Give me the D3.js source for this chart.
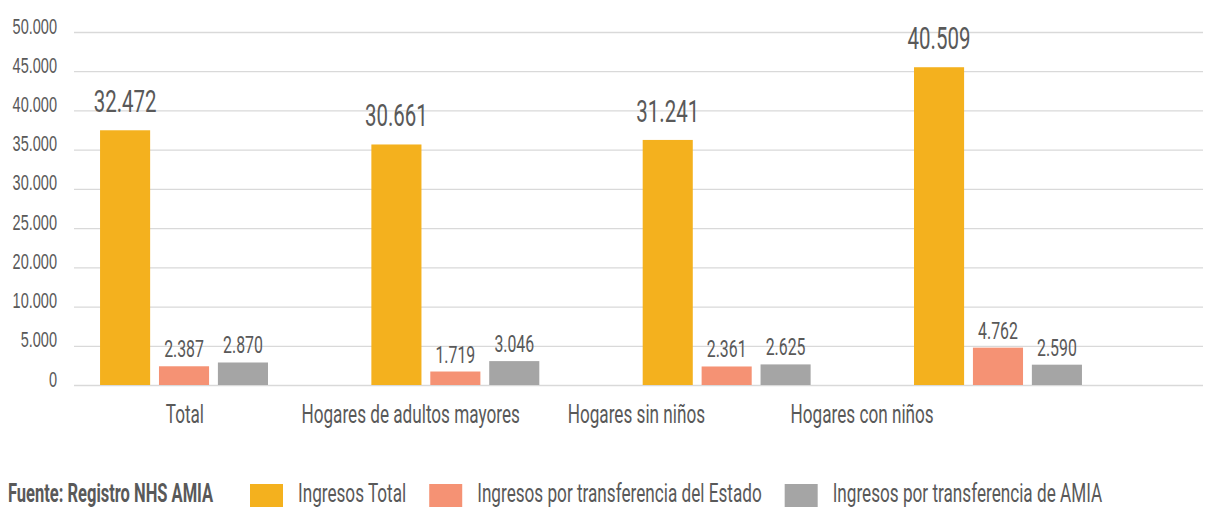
<!DOCTYPE html>
<html>
<head>
<meta charset="utf-8">
<script src="https://cdn.jsdelivr.net/npm/d3@7"></script>
<style>
  body { margin: 0; background: #fff; }
  svg { display: block; font-family: Roboto, "DejaVu Sans", sans-serif; }
  .axis text { fill: #595959; font-size: 22px; }
  .axis line { stroke: #d9d9d9; stroke-width: 1.3; }
  .axis .domain { display: none; }
  .label { fill: #595959; }
</style>
</head>
<body>
<div class="chart"></div>
<script>
// Data
const categories = ['Total', 'Hogares de adultos mayores', 'Hogares sin niños', 'Hogares con niños']
const seriesNames = ['Ingresos Total', 'Ingresos por transferencia del Estado', 'Ingresos por transferencia de AMIA']
const ingresosTotal = [32472, 30661, 31241, 40509]
const transferenciaEstado = [2387, 1719, 2361, 4762]
const transferenciaAmia = [2870, 3046, 2625, 2590]
const yTickValues = [0, 5000, 10000, 15000, 20000, 25000, 30000, 35000, 40000, 45000]
const yTickLabels = ['0', '5.000', '10.000', '20.000', '25.000', '30.000', '35.000', '40.000', '45.000', '50.000']
const source = 'Fuente: Registro NHS AMIA'

const colors = ['#f4b11e', '#f59274', '#a5a5a5']

const locale = d3.formatLocale({ decimal: ',', thousands: '.', grouping: [3], currency: ['', '€'] })
const fmt = locale.format(',d')

const width = 1205
const height = 507

// the original uses a condensed face; squeeze Roboto horizontally instead
const squeeze = 0.66

const rows = categories.map((c, i) => ({
  category: c,
  values: [ingresosTotal[i], transferenciaEstado[i], transferenciaAmia[i]]
}))

const svg = d3.select('.chart')
  .append('svg')
  .attr('width', width)
  .attr('height', height)

const gridLeft = 74
const gridRight = 1203

const y = d3.scaleLinear()
  .domain([0, 45000])
  .range([385, 32])

// groups of bars
const x0 = d3.scaleBand()
  .domain(categories)
  .range([74, 1108])
  .paddingInner(0.381)
  .paddingOuter(0.096)

const x1 = d3.scaleBand()
  .domain(d3.range(seriesNames.length))
  .range([0, x0.bandwidth()])
  .paddingInner(0.15)

// category labels sit on their own, narrower, band
const xLabel = d3.scaleBand()
  .domain(categories)
  .range([72, 975])

function place(sel, fx, fy) {
  sel.attr('x', 0).attr('y', 0)
    .attr('transform', (d, i) => `translate(${fx(d, i)}, ${fy(d, i)}) scale(${squeeze}, 1)`)
}

svg.append('g')
  .attr('class', 'axis axis__y')
  .attr('transform', `translate(${gridLeft}, 0)`)
  .call(
    d3.axisLeft(y)
      .tickValues(yTickValues)
      .tickSize(-(gridRight - gridLeft))
      .tickFormat((d, i) => yTickLabels[i])
  )
  .selectAll('text')
  .attr('dy', 0)
  .call(place, () => -17, () => 1)

const group = svg.append('g')
  .selectAll('g')
  .data(rows)
  .join('g')
  .attr('transform', d => `translate(${x0(d.category)}, 0)`)

group.selectAll('rect')
  .data(d => d.values)
  .join('rect')
  .attr('x', (d, i) => x1(i))
  .attr('width', x1.bandwidth())
  .attr('y', d => y(d))
  .attr('height', d => y(0) - y(d))
  .attr('fill', (d, i) => colors[i])

group.selectAll('text')
  .data(d => d.values)
  .join('text')
  .attr('class', 'label')
  .attr('text-anchor', 'middle')
  .style('font-size', (d, i) => i === 0 ? '31px' : '24px')
  .text(d => fmt(d))
  .call(place, (d, i) => x1(i) + x1.bandwidth() / 2, (d, i) => y(d) - (i === 0 ? 18 : 9))

svg.append('g')
  .selectAll('text')
  .data(categories)
  .join('text')
  .attr('class', 'label')
  .attr('text-anchor', 'middle')
  .style('font-size', '26px')
  .text(d => d)
  .call(place, d => xLabel(d) + xLabel.bandwidth() / 2, () => 423)

// legend, lifted a little so its text stays inside the frame
const legendY = 502
svg.append('text')
  .attr('class', 'label')
  .style('font-size', '25px')
  .style('font-weight', 'bold')
  .text(source)
  .call(place, () => 8, () => legendY)

const legend = svg.append('g')
let lx = 250
seriesNames.forEach((name, i) => {
  legend.append('rect')
    .attr('x', lx)
    .attr('y', legendY - 18)
    .attr('width', 33)
    .attr('height', 23)
    .attr('fill', colors[i])
  const t = legend.append('text')
    .attr('class', 'label')
    .style('font-size', '26px')
    .text(name)
    .call(place, () => lx + 48, () => legendY)
  lx += 48 + t.node().getComputedTextLength() * squeeze + 23
})
</script>
</body>
</html>
